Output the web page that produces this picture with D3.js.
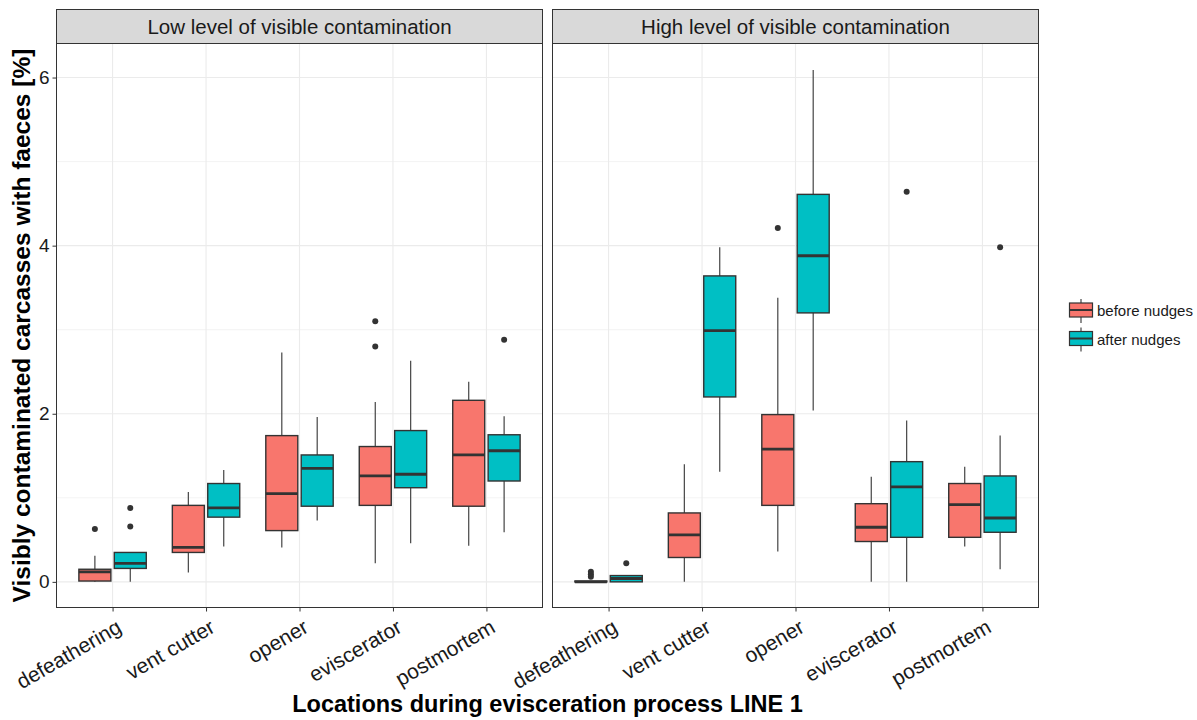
<!DOCTYPE html>
<head>
  <meta charset="utf-8">
  <script src="https://d3js.org/d3.v7.min.js"></script>
  <style>
    body { margin:0; background:#fff; }
    text { font-family: "Liberation Sans", Arial, sans-serif; }
  </style>
</head>
<body>
<script>
  // categories and panels
  var locations = ["defeathering", "vent cutter", "opener", "eviscerator", "postmortem"]
  var panels = ["Low level of visible contamination", "High level of visible contamination"]
  var groups = ["before nudges", "after nudges"]
  var yTicks = [0, 2, 4, 6]

  // box stats: [lower whisker, q1, median, q3, upper whisker]
  var lowBefore = [[0, 0.01, 0.12, 0.15, 0.31], [0.11, 0.35, 0.41, 0.91, 1.07], [0.41, 0.61, 1.05, 1.74, 2.73], [0.22, 0.91, 1.26, 1.61, 2.14], [0.43, 0.90, 1.51, 2.16, 2.38]]
  var lowAfter = [[0, 0.16, 0.22, 0.35, 0.35], [0.42, 0.77, 0.88, 1.17, 1.33], [0.73, 0.90, 1.35, 1.51, 1.96], [0.46, 1.12, 1.28, 1.80, 2.63], [0.59, 1.20, 1.56, 1.75, 1.97]]
  var highBefore = [[0, 0, 0, 0.01, 0.01], [0, 0.29, 0.56, 0.82, 1.40], [0.36, 0.91, 1.58, 1.99, 3.38], [0, 0.48, 0.65, 0.93, 1.25], [0.42, 0.53, 0.92, 1.17, 1.37]]
  var highAfter = [[0, 0, 0.04, 0.075, 0.075], [1.31, 2.20, 2.99, 3.64, 3.98], [2.04, 3.20, 3.88, 4.61, 6.09], [0, 0.53, 1.13, 1.43, 1.92], [0.15, 0.59, 0.76, 1.26, 1.74]]

  // outliers per location
  var lowBeforeOut = [[0.63], [], [], [3.10, 2.80], []]
  var lowAfterOut = [[0.88, 0.66], [], [], [], [2.88]]
  var highBeforeOut = [[0.12, 0.09, 0.06], [], [4.21], [], []]
  var highAfterOut = [[0.22], [], [], [4.64], [3.98]]

  var colors = ["#F8766D", "#00BFC4"]

  var svg = d3.select("body").append("svg")
    .attr("width", 1197)
    .attr("height", 720)

  var plotTop = 43.5, plotBottom = 607.5, stripTop = 9.5
  var panelX = [[56.5, 542.5], [552.5, 1038.5]]

  var y = d3.scaleLinear()
    .domain([-0.305, 6.405])
    .range([plotBottom, plotTop])

  var data = [
    [{stats: lowBefore, out: lowBeforeOut}, {stats: lowAfter, out: lowAfterOut}],
    [{stats: highBefore, out: highBeforeOut}, {stats: highAfter, out: highAfterOut}]
  ]

  panels.forEach(function(title, p) {
    var x0 = panelX[p][0], x1 = panelX[p][1]
    var x = d3.scalePoint()
      .domain(locations)
      .range([x0, x1])
      .padding(0.6)
    var g = svg.append("g")

    // grid
    g.selectAll(".minor").data([1, 3, 5]).enter().append("line")
      .attr("x1", x0).attr("x2", x1)
      .attr("y1", function(d) { return y(d) }).attr("y2", function(d) { return y(d) })
      .attr("stroke", "#EBEBEB").attr("stroke-width", 0.6)
    g.selectAll(".major").data(yTicks).enter().append("line")
      .attr("x1", x0).attr("x2", x1)
      .attr("y1", function(d) { return y(d) }).attr("y2", function(d) { return y(d) })
      .attr("stroke", "#EBEBEB").attr("stroke-width", 1.1)
    g.selectAll(".vgrid").data(locations).enter().append("line")
      .attr("x1", function(d) { return x(d) }).attr("x2", function(d) { return x(d) })
      .attr("y1", plotTop).attr("y2", plotBottom)
      .attr("stroke", "#EBEBEB").attr("stroke-width", 1.1)

    // boxes
    var off = 17.7, bw = 32
    data[p].forEach(function(series, s) {
      var dx = s == 0 ? -off : off
      series.stats.forEach(function(st, i) {
        var cx = x(locations[i]) + dx
        g.append("line")
          .attr("x1", cx).attr("x2", cx)
          .attr("y1", y(st[0])).attr("y2", y(st[4]))
          .attr("stroke", "#444").attr("stroke-width", 1.2)
        g.append("rect")
          .attr("x", cx - bw / 2).attr("width", bw)
          .attr("y", y(st[3])).attr("height", Math.max(y(st[1]) - y(st[3]), 0.5))
          .attr("fill", colors[s])
          .attr("stroke", "#333").attr("stroke-width", 1.4)
        g.append("line")
          .attr("x1", cx - bw / 2).attr("x2", cx + bw / 2)
          .attr("y1", y(st[2])).attr("y2", y(st[2]))
          .attr("stroke", "#333").attr("stroke-width", 2.8)
        series.out[i].forEach(function(v) {
          g.append("circle")
            .attr("cx", cx).attr("cy", y(v)).attr("r", 3)
            .attr("fill", "#333")
        })
      })
    })

    // border
    g.append("rect")
      .attr("x", x0).attr("y", plotTop)
      .attr("width", x1 - x0).attr("height", plotBottom - plotTop)
      .attr("fill", "none").attr("stroke", "#333").attr("stroke-width", 1)

    // strip
    g.append("rect")
      .attr("x", x0).attr("y", stripTop)
      .attr("width", x1 - x0).attr("height", plotTop - stripTop)
      .attr("fill", "#D9D9D9").attr("stroke", "#333").attr("stroke-width", 1)
    g.append("text")
      .attr("x", (x0 + x1) / 2).attr("y", (stripTop + plotTop) / 2)
      .attr("dy", "0.35em")
      .attr("text-anchor", "middle")
      .attr("font-size", 20.5)
      .attr("fill", "#1a1a1a")
      .text(title)

    // x axis
    var xAxis = d3.axisBottom(x).tickSize(4).tickSizeOuter(0).tickFormat("")
    var ax = svg.append("g")
      .attr("transform", "translate(0," + plotBottom + ")")
      .call(xAxis)
    ax.select(".domain").remove()
    ax.selectAll(".tick line").attr("stroke", "#333")
    locations.forEach(function(d) {
      svg.append("text")
        .attr("transform", "translate(" + (x(d) + 3) + "," + (plotBottom + 11) + ") rotate(-30)")
        .attr("text-anchor", "end")
        .attr("dy", "0.7em")
        .attr("font-size", 21)
        .attr("fill", "#1a1a1a")
        .text(d)
    })
  })

  // y axis
  var yAxis = d3.axisLeft(y).tickValues(yTicks).tickFormat(d3.format("d")).tickSize(4).tickPadding(3)
  var ay = svg.append("g")
    .attr("transform", "translate(" + panelX[0][0] + ",0)")
    .call(yAxis)
  ay.select(".domain").remove()
  ay.selectAll(".tick line").attr("stroke", "#333")
  ay.selectAll(".tick text")
    .attr("font-size", 19)
    .attr("fill", "#1a1a1a")
    .style("font-family", "Liberation Sans, Arial, sans-serif")

  // titles
  svg.append("text")
    .attr("transform", "translate(21," + (plotTop + plotBottom) / 2 + ") rotate(-90)")
    .attr("text-anchor", "middle")
    .attr("dy", "0.35em")
    .attr("font-size", 24.5)
    .attr("font-weight", "bold")
    .text("Visibly contaminated carcasses with faeces [%]")
  svg.append("text")
    .attr("x", (panelX[0][0] + panelX[1][1]) / 2)
    .attr("y", 704)
    .attr("dy", "0.35em")
    .attr("text-anchor", "middle")
    .attr("font-size", 23.5)
    .attr("font-weight", "bold")
    .text("Locations during evisceration process LINE 1")

  // legend
  var legend = svg.append("g").attr("transform", "translate(1069,298)")
  groups.forEach(function(name, i) {
    var lg = legend.append("g").attr("transform", "translate(0," + i * 28.5 + ")")
    lg.append("line")
      .attr("x1", 12).attr("x2", 12).attr("y1", 1).attr("y2", 25)
      .attr("stroke", "#333").attr("stroke-width", 1.1)
    lg.append("rect")
      .attr("x", 0.5).attr("y", 5).attr("width", 23).attr("height", 14)
      .attr("fill", colors[i]).attr("stroke", "#333").attr("stroke-width", 1.2)
    lg.append("line")
      .attr("x1", 0.5).attr("x2", 23.5).attr("y1", 12).attr("y2", 12)
      .attr("stroke", "#333").attr("stroke-width", 2)
    lg.append("text")
      .attr("x", 28).attr("y", 13)
      .attr("dy", "0.35em")
      .attr("font-size", 15)
      .attr("fill", "#1a1a1a")
      .text(name)
  })
</script>
</body>
